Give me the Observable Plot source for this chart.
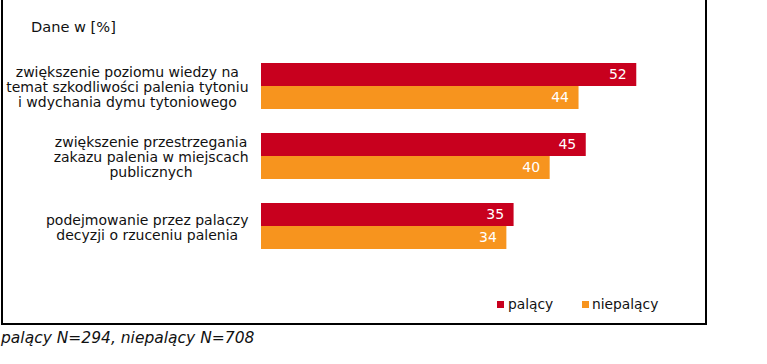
<!DOCTYPE html>
<html>
<head>
<meta charset="utf-8">
<script src="https://cdn.jsdelivr.net/npm/d3@7"></script>
<script src="https://cdn.jsdelivr.net/npm/@observablehq/plot@0.6"></script>
<style>
  body { margin: 0; background: #fff; font-family: "DejaVu Sans", Verdana, sans-serif; }
  #box { position: absolute; left: 1px; top: 0; width: 702px; height: 323px;
         border-left: 2px solid #000; border-right: 2px solid #000; border-bottom: 2px solid #000; }
  #chart { position: absolute; left: 3px; top: 0; }
  .t { position: absolute; font-size: 13.8px; line-height: 16px; color: #111; white-space: nowrap; }
  .sw { position: absolute; width: 7px; height: 7px; }
</style>
</head>
<body>
<div id="box"></div>
<div id="chart"></div>
<div class="t" id="title" style="left:31px; top:19px; font-size:14.6px;"></div>
<div id="legend"></div>
<div class="t" id="caption" style="left:1px; top:330px; font-style:italic; font-size:15.5px; line-height:17px;"></div>
<script>
const categories = [
  "zwiększenie poziomu wiedzy na\ntemat szkodliwości palenia tytoniu\ni wdychania dymu tytoniowego",
  "zwiększenie przestrzegania\nzakazu palenia w miejscach\npublicznych",
  "podejmowanie przez palaczy\ndecyzji o rzuceniu palenia"
];
const series = ["palący", "niepalący"];
const palacy = [52, 45, 35];
const niepalacy = [44, 40, 34];
const colors = ["#C8001E", "#F7941E"];
const titleText = "Dane w [%]";
const captionText = "palący N=294, niepalący N=708";

const data = [];
categories.forEach((c, i) => {
  data.push({category: c, series: series[0], value: palacy[i]});
  data.push({category: c, series: series[1], value: niepalacy[i]});
});

const font = "DejaVu Sans, Verdana, sans-serif";
const labelSize = 14;
const ctx = document.createElement("canvas").getContext("2d");
ctx.font = labelSize + "px 'DejaVu Sans'";
const marginLeft = 258;
const labelRight = 245; // in svg coords
const labelMarks = categories.map(c => {
  const w = d3.max(c.split("\n"), l => ctx.measureText(l).width);
  const center = labelRight - w / 2;
  return Plot.text([c], {
    fy: d => d, text: d => d, frameAnchor: "left", textAnchor: "middle",
    dx: center - marginLeft, dy: 1, lineHeight: 15 / labelSize, fontSize: labelSize, fill: "#111"
  });
});

const chart = Plot.plot({
  width: 702,
  height: 323,
  marginLeft: marginLeft,
  marginRight: 11,
  marginTop: 62,
  marginBottom: 72,
  style: {fontFamily: font, background: "transparent"},
  x: {domain: [0, 60], axis: null},
  y: {domain: series, padding: 0, axis: null},
  fy: {domain: categories, paddingInner: 0.338, paddingOuter: 0, axis: null},
  color: {domain: series, range: colors},
  marks: [
    Plot.barX(data, {fy: "category", y: "series", x: "value", fill: "series"}),
    Plot.text(data, {fy: "category", y: "series", x: "value", text: d => String(d.value),
      textAnchor: "end", dx: -10, fill: "white", fontSize: 14}),
    ...labelMarks
  ]
});
document.getElementById("chart").appendChild(chart);

document.getElementById("title").textContent = titleText;
document.getElementById("caption").textContent = captionText;

const legend = document.getElementById("legend");
const legendPos = [{sq: 497, tx: 508}, {sq: 582, tx: 592}];
series.forEach((s, i) => {
  const sw = document.createElement("div");
  sw.className = "sw";
  sw.style.left = legendPos[i].sq + "px";
  sw.style.top = "301px";
  sw.style.background = colors[i];
  legend.appendChild(sw);
  const t = document.createElement("div");
  t.className = "t";
  t.style.left = legendPos[i].tx + "px";
  t.style.top = "296px";
  t.textContent = s;
  legend.appendChild(t);
});
</script>
</body>
</html>
